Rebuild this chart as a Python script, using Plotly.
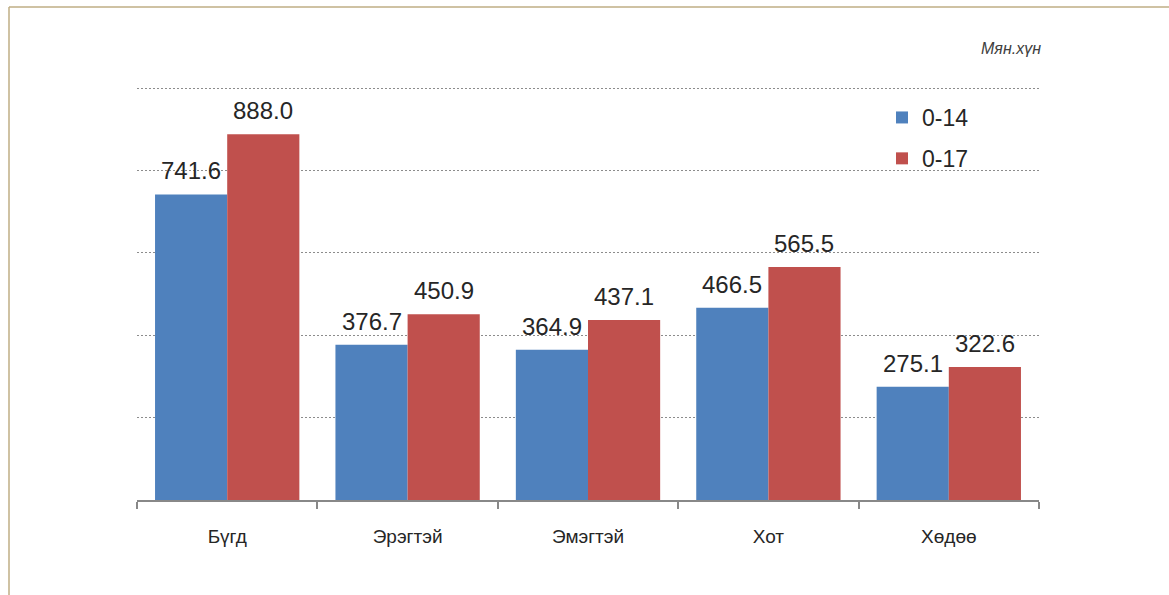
import plotly.graph_objects as go

categories = ["Бүгд", "Эрэгтэй", "Эмэгтэй", "Хот", "Хөдөө"]
series_names = ["0-14", "0-17"]
values_0_14 = [741.6, 376.7, 364.9, 466.5, 275.1]
values_0_17 = [888.0, 450.9, 437.1, 565.5, 322.6]
unit_label = "Мян.хүн"

colors = ["#4F81BD", "#C0504D"]
FONT = "Liberation Sans, Arial, sans-serif"

fig = go.Figure()
for name, vals, col in zip(series_names, [values_0_14, values_0_17], colors):
    fig.add_trace(go.Bar(
        x=categories, y=vals, name=name, legendgroup=name,
        marker=dict(color=col, line=dict(width=0)),
    ))

# plot area in pixels (value 1000 sits at y=88, value 0 at y=500)
L, T, W, H = 137, 84, 902, 416
YMAX = 1000 * H / 412
def px(xp): return (xp - L) / W
def py(yp): return (T + H - yp) / H

annotations = []
for vals, shift in [(values_0_14, -36), (values_0_17, 36)]:
    for c, v in zip(categories, vals):
        annotations.append(dict(
            x=c, y=v, xref="x", yref="y", text=f"{v:.1f}", showarrow=False,
            xshift=shift, yshift=8, yanchor="bottom",
            font=dict(family=FONT, size=24, color="#262626"),
        ))
annotations.append(dict(
    x=1.0, y=py(88), xref="paper", yref="paper", text=f"<i>{unit_label}</i>",
    showarrow=False, xanchor="right", yanchor="bottom", xshift=4, yshift=29,
    font=dict(family=FONT, size=16, color="#404040"),
))

shapes = [
    dict(type="line", xref="paper", yref="paper", x0=px(9), x1=px(9), y0=py(7), y1=py(600),
         line=dict(color="#BFAE85", width=1.5)),
    dict(type="line", xref="paper", yref="paper", x0=px(9), x1=px(1175), y0=py(7), y1=py(7),
         line=dict(color="#BFAE85", width=1.5)),
]

fig.update_layout(
    width=1169, height=595,
    margin=dict(l=L, r=1169 - L - W, t=T, b=595 - T - H),
    paper_bgcolor="white", plot_bgcolor="white",
    barmode="group", bargap=0.2, bargroupgap=0,
    font=dict(family=FONT, color="#262626"),
    showlegend=True,
    legend=dict(
        x=px(882), y=py(96), xanchor="left", yanchor="top",
        font=dict(family=FONT, size=23, color="#262626"),
        bgcolor="rgba(0,0,0,0)", tracegroupgap=8, traceorder="grouped",
    ),
    annotations=annotations, shapes=shapes,
    xaxis=dict(
        showline=True, linecolor="#888888", linewidth=2,
        ticks="outside", tickson="boundaries", ticklen=7, tickwidth=2, tickcolor="#888888",
        tickfont=dict(family=FONT, size=19, color="#262626"), ticklabelstandoff=18,
        showgrid=False, fixedrange=True,
    ),
    yaxis=dict(
        range=[0, YMAX], tick0=0, dtick=200, showticklabels=False,
        showgrid=True, gridcolor="#8C8C8C", gridwidth=1, griddash="2px,2px",
        zeroline=False, showline=False, ticks="", fixedrange=True,
    ),
)

fig.write_html("out.html", config={"displayModeBar": False},
               post_script="document.body.style.margin='0';")
